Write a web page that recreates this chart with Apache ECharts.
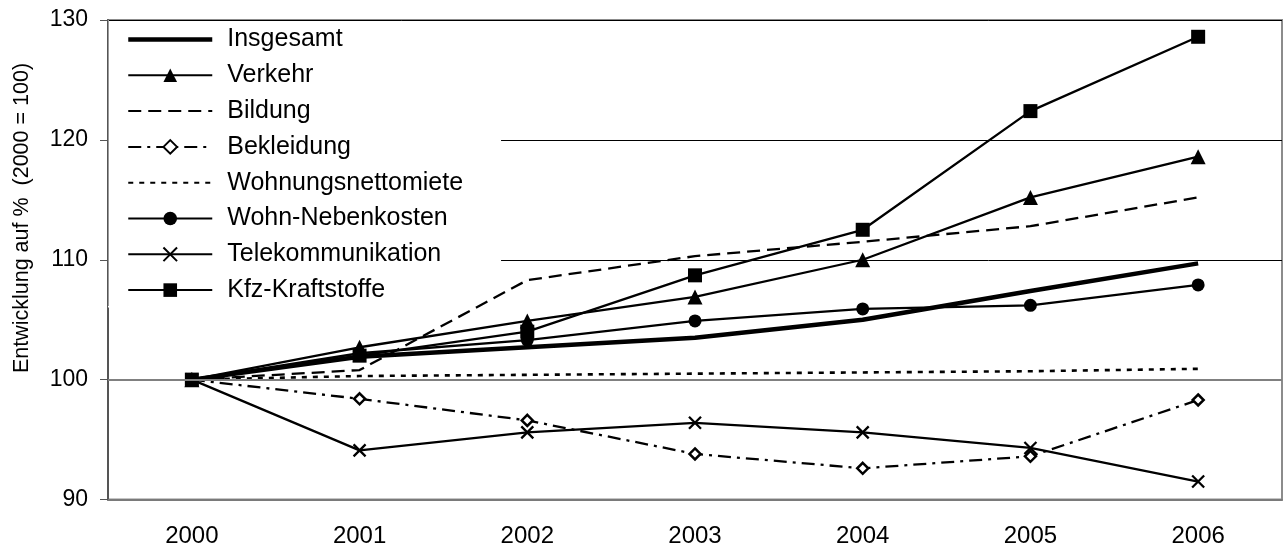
<!DOCTYPE html>
<html>
<head>
<meta charset="utf-8">
<script src="https://cdn.jsdelivr.net/npm/echarts@6/dist/echarts.min.js"></script>
<style>html,body{margin:0;padding:0;background:#fff}#c{width:1286px;height:554px}</style>
</head>
<body>
<div id="c"></div>
<script>
const years = ['2000','2001','2002','2003','2004','2005','2006'];
const insgesamt = [100, 101.9, 102.7, 103.5, 105.0, 107.4, 109.7];
const verkehr = [100, 102.7, 104.9, 106.9, 110.0, 115.2, 118.6];
const bildung = [100, 100.8, 108.3, 110.3, 111.5, 112.8, 115.2];
const bekleidung = [100, 98.4, 96.6, 93.8, 92.6, 93.6, 98.3];
const nettomiete = [100, 100.3, 100.4, 100.5, 100.6, 100.7, 100.9];
const nebenkosten = [100, 102.2, 103.3, 104.9, 105.9, 106.2, 107.9];
const telekom = [100, 94.1, 95.6, 96.4, 95.6, 94.3, 91.5];
const kraftstoffe = [100, 102.0, 104.0, 108.7, 112.5, 122.4, 128.6];
const yTicks = [90, 100, 110, 120, 130];
const seriesNames = ['Insgesamt','Verkehr','Bildung','Bekleidung','Wohnungsnettomiete','Wohn-Nebenkosten','Telekommunikation','Kfz-Kraftstoffe'];
const yTitle = 'Entwicklung auf %  (2000 = 100)';

const FONT = "Arial, 'Liberation Sans', sans-serif";
const LW = 2.3;
const chart = echarts.init(document.getElementById('c'), null, {renderer: 'canvas'});
const base = (name, data, extra) => Object.assign({
  name, type: 'line', data,
  symbol: 'circle', showSymbol: false,
  lineStyle: {color: '#000', width: LW},
  itemStyle: {color: '#000'},
  emphasis: {disabled: true},
  silent: true
}, extra);
const hiddenIcon = {color: 'rgba(0,0,0,0)', borderColor: 'rgba(0,0,0,0)', borderWidth: 0, opacity: 0};

const legendData = seriesNames.map((n, i) => {
  if (i === 0) return {name: n, itemStyle: hiddenIcon, lineStyle: {width: 4.5}};
  if (i === 2 || i === 4) return {name: n, itemStyle: hiddenIcon};
  return {name: n};
});

chart.setOption({
  animation: false,
  textStyle: {fontFamily: FONT},
  grid: {left: 108, right: 4, top: 20, bottom: 54.5, show: true, borderColor: '#8c8c8c', borderWidth: 2, backgroundColor: 'transparent'},
  legend: {
    orient: 'vertical', left: 108, top: 22, z: 1,
    padding: [5, 38, 5, 18],
    backgroundColor: '#fff',
    itemWidth: 84, itemHeight: 17, itemGap: 10.8,
    textStyle: {fontFamily: FONT, fontSize: 25, lineHeight: 25, color: '#000', padding: [0, 0, 0, 10]},
    selectedMode: false,
    data: legendData
  },
  graphic: [{
    type: 'text', x: 22, y: 218, rotation: Math.PI / 2,
    style: {text: yTitle, font: '21.5px ' + FONT, fill: '#000', textAlign: 'center', textVerticalAlign: 'middle'}
  }, {
    type: 'line', z: 100, silent: true,
    shape: {x1: 108.5, y1: 20, x2: 108.5, y2: 306},
    style: {stroke: '#9a9a9a', lineWidth: 1}
  }],
  xAxis: {
    type: 'category', data: years, boundaryGap: true,
    axisLine: {lineStyle: {color: '#7a7a7a', width: 2}},
    axisTick: {length: 7, lineStyle: {color: '#555', width: 1}},
    axisLabel: {color: '#000', fontSize: 24, fontFamily: FONT, margin: 25},
    splitLine: {show: false}
  },
  yAxis: {
    type: 'value', min: yTicks[0], max: yTicks[yTicks.length - 1], interval: 10,
    axisLine: {show: true, lineStyle: {color: '#555', width: 2}},
    axisTick: {show: true, length: 8, lineStyle: {color: '#555', width: 1}},
    axisLabel: {color: '#000', fontSize: 23, fontFamily: FONT, margin: 20},
    splitLine: {show: true, lineStyle: {color: '#000', width: 1}}
  },
  series: [
    base(seriesNames[0], insgesamt, {lineStyle: {color: '#000', width: 4.5},
      markLine: {silent: true, symbol: 'none', label: {show: false}, lineStyle: {color: '#808080', width: 2, type: 'solid'}, data: [{yAxis: 100}]}}),
    base(seriesNames[1], verkehr, {symbol: 'triangle', symbolSize: 15, showSymbol: true, showAllSymbol: true}),
    base(seriesNames[2], bildung, {lineStyle: {color: '#000', width: LW, type: [13, 7]}}),
    base(seriesNames[3], bekleidung, {symbol: 'diamond', symbolSize: 11, showSymbol: true, showAllSymbol: true,
      lineStyle: {color: '#000', width: LW, type: [13, 6, 3, 6]},
      itemStyle: {color: '#fff', borderColor: '#000', borderWidth: 2.5}}),
    base(seriesNames[4], nettomiete, {lineStyle: {color: '#000', width: 2.6, type: [5, 6]}}),
    base(seriesNames[5], nebenkosten, {symbol: 'circle', symbolSize: 13, showSymbol: true, showAllSymbol: true}),
    base(seriesNames[6], telekom, {symbol: 'path://M0,0L10,10M10,0L0,10', symbolSize: 12, showSymbol: true, showAllSymbol: true,
      itemStyle: {color: '#000', borderColor: '#000', borderWidth: 2.3}}),
    base(seriesNames[7], kraftstoffe, {symbol: 'rect', symbolSize: 14, showSymbol: true, showAllSymbol: true})
  ]
});
</script>
</body>
</html>
